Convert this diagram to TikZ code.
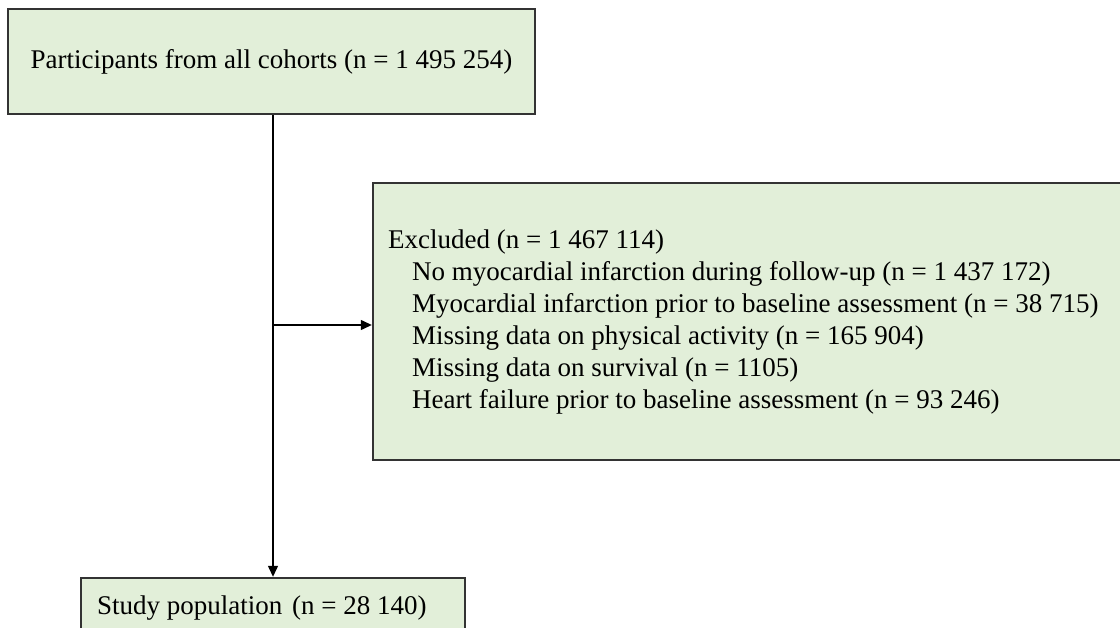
\documentclass[tikz,border=0pt]{standalone}
\usepackage{fontspec}
\setmainfont{Liberation Serif}
\usetikzlibrary{arrows.meta}
\definecolor{boxfill}{HTML}{E2EFD9}
\definecolor{boxline}{HTML}{333333}
\begin{document}
\begin{tikzpicture}[x=1pt,y=-1pt,
  box/.style={draw=boxline,line width=2.4pt,fill=boxfill,rectangle,inner sep=0pt},
  txt/.style={inner sep=0pt,font=\fontsize{27}{32.5}\selectfont},
  ln/.style={txt,anchor=base west},
  conn/.style={draw=black,line width=1.3pt},
  arr/.style={conn,-{Triangle[length=11pt,width=10pt]}}]
\useasboundingbox (0,0) rectangle (1120,628);
\fill[white] (0,0) rectangle (1120,628);
\node[box,minimum width=527pt,minimum height=105pt,txt] (top) at (271.5,61.5) {Participants from all cohorts (n = 1 495 254)};
\node[box,minimum width=760pt,minimum height=277pt] (excl) at (753,321.5) {};
\node[ln] (e0) at (388,249) {Excluded (n = 1 467 114)};
\node[ln] (e1) at (412,281) {No myocardial infarction during follow-up (n = 1 437 172)};
\node[ln] (e2) at (412,313) {Myocardial infarction prior to baseline assessment (n = 38 715)};
\node[ln] (e3) at (412,345) {Missing data on physical activity (n = 165 904)};
\node[ln] (e4) at (412,377) {Missing data on survival (n = 1105)};
\node[ln] (e5) at (412,409) {Heart failure prior to baseline assessment (n = 93 246)};
\node[box,minimum width=384pt,minimum height=80pt] (bot) at (273,618) {};
\node[ln] (bottxt) at (97,614) {Study population \hspace{3pt}(n = 28 140)};
\coordinate (j) at (273,325);
\draw[arr] (top.south -| j) -- (bot.north -| j);
\draw[arr] (j) -- (j -| excl.west);
\end{tikzpicture}
\end{document}
